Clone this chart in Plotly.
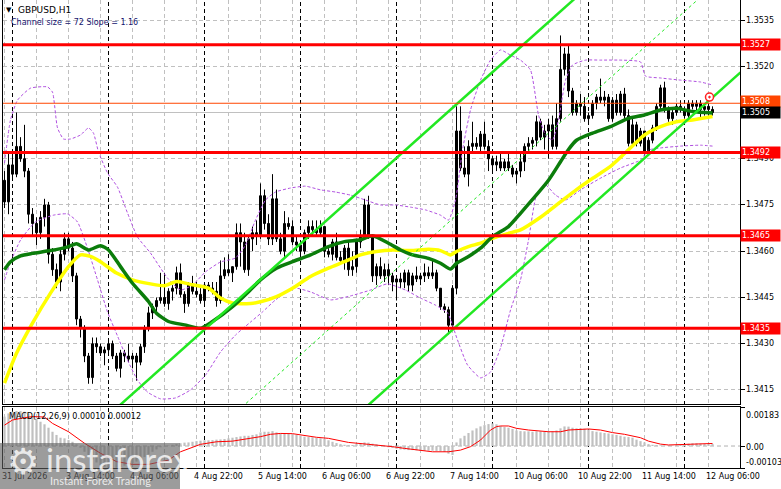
import plotly.graph_objects as go

# ---------------- data ----------------
opens = [1.3483,1.3476,1.3488,1.3485,1.3494,1.3490,1.3486,1.3472,1.3469,1.3466,
1.3471,1.3475,1.3459,1.3454,1.3450,1.3459,1.3464,1.3461,1.3452,1.3438,
1.3435,1.3426,1.3419,1.3430,1.3429,1.3427,1.3428,1.3430,1.3426,1.3422,
1.3427,1.3426,1.3425,1.3426,1.3424,1.3429,1.3435,1.3440,1.3442,1.3444,
1.3445,1.3443,1.3447,1.3448,1.3453,1.3446,1.3443,1.3449,1.3447,1.3446,
1.3444,1.3449,1.3448,1.3447,1.3444,1.3452,1.3454,1.3453,1.3455,1.3466,
1.3463,1.3454,1.3464,1.3466,1.3465,1.3478,1.3469,1.3464,1.3477,1.3464,
1.3460,1.3469,1.3468,1.3463,1.3462,1.3460,1.3466,1.3468,1.3467,1.3466,
1.3468,1.3460,1.3459,1.3463,1.3458,1.3457,1.3461,1.3454,1.3455,1.3463,
1.3465,1.3475,1.3465,1.3452,1.3455,1.3452,1.3454,1.3452,1.3450,1.3451,
1.3450,1.3453,1.3449,1.3452,1.3451,1.3452,1.3453,1.3452,1.3453,1.3448,
1.3442,1.3441,1.3436,1.3448,1.3499,1.3487,1.3485,1.3494,1.3495,1.3494,
1.3498,1.3494,1.3490,1.3488,1.3489,1.3487,1.3489,1.3487,1.3485,1.3486,
1.3489,1.3494,1.3495,1.3496,1.3502,1.3497,1.3499,1.3501,1.3494,1.3503,
1.3519,1.3524,1.3512,1.3505,1.3508,1.3507,1.3503,1.3504,1.3508,1.3510,
1.3509,1.3510,1.3503,1.3509,1.3505,1.3511,1.3504,1.3495,1.3501,1.3495,
1.3499,1.3492,1.3496,1.3500,1.3507,1.3513,1.3506,1.3503,1.3505,1.3507,
1.3506,1.3504,1.3508,1.3507,1.3508,1.3506,1.3507,1.3506]
highs = [1.3486,1.3492,1.3493,1.3505,1.3497,1.3501,1.3487,1.3474,1.3471,1.3473,
1.3477,1.3476,1.3461,1.3456,1.3461,1.3466,1.3466,1.3463,1.3453,1.3439,
1.3436,1.3427,1.3432,1.3432,1.3430,1.3429,1.3431,1.3431,1.3427,1.3428,
1.3428,1.3430,1.3427,1.3427,1.3430,1.3436,1.3442,1.3443,1.3445,1.3453,
1.3453,1.3448,1.3449,1.3455,1.3456,1.3447,1.3450,1.3452,1.3450,1.3448,
1.3450,1.3450,1.3450,1.3450,1.3457,1.3458,1.3459,1.3455,1.3469,1.3469,
1.3466,1.3465,1.3468,1.3470,1.3482,1.3480,1.3472,1.3485,1.3480,1.3466,
1.3473,1.3471,1.3470,1.3465,1.3463,1.3467,1.3470,1.3470,1.3470,1.3470,
1.3468,1.3461,1.3464,1.3466,1.3460,1.3462,1.3463,1.3460,1.3464,1.3467,
1.3477,1.3478,1.3465,1.3456,1.3458,1.3456,1.3456,1.3453,1.3452,1.3453,
1.3454,1.3454,1.3453,1.3455,1.3453,1.3456,1.3455,1.3457,1.3454,1.3448,
1.3443,1.3442,1.3449,1.3507,1.3507,1.3494,1.3496,1.3502,1.3497,1.3499,
1.3502,1.3496,1.3491,1.3491,1.3492,1.3490,1.3492,1.3488,1.3487,1.3492,
1.3495,1.3497,1.3497,1.3504,1.3503,1.3501,1.3503,1.3504,1.3508,1.3530,
1.3526,1.3527,1.3513,1.3509,1.3511,1.3510,1.3505,1.3509,1.3511,1.3516,
1.3512,1.3511,1.3510,1.3511,1.3512,1.3513,1.3506,1.3503,1.3502,1.3500,
1.3499,1.3497,1.3501,1.3508,1.3514,1.3515,1.3507,1.3506,1.3508,1.3509,
1.3507,1.3509,1.3509,1.3509,1.3509,1.3508,1.3508,1.3507]
lows = [1.3474,1.3472,1.3484,1.3484,1.3489,1.3484,1.3469,1.3465,1.3462,1.3464,
1.3468,1.3456,1.3452,1.3448,1.3447,1.3457,1.3460,1.3450,1.3436,1.3432,
1.3424,1.3417,1.3417,1.3427,1.3426,1.3423,1.3426,1.3425,1.3421,1.3419,
1.3424,1.3424,1.3422,1.3418,1.3423,1.3427,1.3434,1.3438,1.3440,1.3443,
1.3442,1.3441,1.3444,1.3446,1.3445,1.3440,1.3442,1.3446,1.3445,1.3443,
1.3443,1.3447,1.3446,1.3442,1.3443,1.3451,1.3452,1.3450,1.3454,1.3455,
1.3453,1.3452,1.3460,1.3462,1.3464,1.3467,1.3462,1.3462,1.3463,1.3459,
1.3458,1.3467,1.3462,1.3460,1.3459,1.3459,1.3464,1.3465,1.3465,1.3465,
1.3458,1.3458,1.3457,1.3457,1.3456,1.3454,1.3452,1.3452,1.3453,1.3461,
1.3464,1.3464,1.3450,1.3449,1.3451,1.3450,1.3449,1.3447,1.3444,1.3448,
1.3448,1.3447,1.3447,1.3450,1.3449,1.3450,1.3451,1.3451,1.3447,1.3441,
1.3440,1.3433,1.3435,1.3446,1.3486,1.3484,1.3481,1.3492,1.3493,1.3492,
1.3493,1.3486,1.3486,1.3486,1.3486,1.3486,1.3486,1.3484,1.3482,1.3484,
1.3486,1.3492,1.3493,1.3494,1.3496,1.3493,1.3490,1.3493,1.3493,1.3502,
1.3517,1.3510,1.3504,1.3504,1.3504,1.3502,1.3501,1.3503,1.3506,1.3508,
1.3507,1.3502,1.3502,1.3504,1.3504,1.3503,1.3494,1.3494,1.3494,1.3494,
1.3491,1.3491,1.3495,1.3499,1.3506,1.3505,1.3502,1.3501,1.3504,1.3505,
1.3503,1.3503,1.3506,1.3505,1.3503,1.3504,1.3504,1.3504]
closes = [1.3476,1.3488,1.3485,1.3494,1.3490,1.3486,1.3472,1.3469,1.3466,1.3471,
1.3475,1.3459,1.3454,1.3450,1.3459,1.3464,1.3461,1.3452,1.3438,1.3435,
1.3426,1.3419,1.3430,1.3429,1.3427,1.3428,1.3430,1.3426,1.3422,1.3427,
1.3426,1.3425,1.3426,1.3424,1.3429,1.3435,1.3440,1.3442,1.3444,1.3445,
1.3443,1.3447,1.3448,1.3453,1.3446,1.3443,1.3449,1.3447,1.3446,1.3444,
1.3449,1.3448,1.3447,1.3444,1.3452,1.3454,1.3453,1.3455,1.3466,1.3463,
1.3454,1.3464,1.3466,1.3465,1.3478,1.3469,1.3464,1.3477,1.3464,1.3460,
1.3469,1.3468,1.3463,1.3462,1.3460,1.3466,1.3468,1.3467,1.3466,1.3468,
1.3460,1.3459,1.3463,1.3458,1.3457,1.3461,1.3454,1.3455,1.3463,1.3465,
1.3475,1.3465,1.3452,1.3455,1.3452,1.3454,1.3452,1.3450,1.3451,1.3450,
1.3453,1.3449,1.3452,1.3451,1.3452,1.3453,1.3452,1.3453,1.3448,1.3442,
1.3441,1.3436,1.3448,1.3499,1.3487,1.3485,1.3494,1.3495,1.3494,1.3498,
1.3494,1.3490,1.3488,1.3489,1.3487,1.3489,1.3487,1.3485,1.3486,1.3489,
1.3494,1.3495,1.3496,1.3502,1.3497,1.3499,1.3501,1.3494,1.3503,1.3519,
1.3524,1.3512,1.3505,1.3508,1.3507,1.3503,1.3504,1.3508,1.3510,1.3509,
1.3510,1.3503,1.3509,1.3505,1.3511,1.3504,1.3495,1.3501,1.3495,1.3499,
1.3492,1.3496,1.3500,1.3507,1.3513,1.3506,1.3503,1.3505,1.3507,1.3506,
1.3504,1.3508,1.3507,1.3508,1.3506,1.3507,1.3506,1.3505]

green_ma_x = [0,1.5,4,7,11.5,16,18,21,24,26,29,32,36,38,41,45,49,52,57,61.5,
64,68,72,76.5,81,85,89,92,96,99,102,106,109,111.5,113,116,119,122,126,129,
136,139,141,143,147,151.5,156,160,164,168,172,177]
green_ma = [1.34540,1.34566,1.34585,1.34593,1.34602,1.34615,1.34624,1.34604,1.34618,1.34604,
1.34550,1.34496,1.34437,1.34399,1.34372,1.34361,1.34350,1.34372,1.34420,1.34475,
1.34507,1.34545,1.34566,1.34588,1.34615,1.34631,1.34637,1.34650,1.34626,1.34604,
1.34588,1.34577,1.34561,1.34542,1.34561,1.34583,1.34610,1.34647,1.34680,1.34723,
1.34830,1.34890,1.34930,1.34960,1.34983,1.35004,1.35031,1.35042,1.35058,1.35064,
1.35053,1.35048]
yellow_ma_x = [0,3,7,11.5,16,19,21.5,24,28,32,36.5,40,43,47,51,54,57,61.5,64,68,
72,76.5,81,85,89,93,97,101.5,106,109,111.5,113,116,119,122,126,129,134,139,143,
146.5,151.5,156,160,164,168,172,177]
yellow_ma = [1.34172,1.34269,1.34367,1.34464,1.34550,1.34588,1.34583,1.34566,1.34529,1.34507,
1.34494,1.34488,1.34502,1.34491,1.34480,1.34448,1.34432,1.34430,1.34436,1.34453,
1.34480,1.34518,1.34545,1.34566,1.34588,1.34599,1.34604,1.34602,1.34606,1.34602,
1.34588,1.34599,1.34615,1.34626,1.34642,1.34658,1.34669,1.34710,1.34760,1.34800,
1.34832,1.34875,1.34929,1.34977,1.35004,1.35020,1.35026,1.35037]

bb_upper_x = [0,1.5,3.25,6.5,10.75,12,13.25,14.75,16.5,19,21,22.25,23.5,25.75,28.25,30.75,33.25,36.5,40.75,44,
47,50.25,54,57.75,60.25,62.75,65.25,67.75,71.5,75.25,79,82.75,86.5,90.25,94,97.75,101.5,105.25,109,111,
112.75,114.5,116.5,119,121.5,124,126.5,129,131.5,133.5,135.25,137,138.5,140.25,142,145.25,149,154,159,160.25,
164,169,174,177]
bb_upper = [1.34886,1.35026,1.35090,1.35129,1.35133,1.35116,1.35000,1.34964,1.34964,1.34977,
1.35000,1.34983,1.34922,1.34854,1.34808,1.34724,1.34646,1.34594,1.34513,1.34474,
1.34490,1.34533,1.34565,1.34578,1.34620,1.34701,1.34766,1.34792,1.34805,1.34811,
1.34799,1.34792,1.34782,1.34766,1.34750,1.34750,1.34743,1.34734,1.34717,1.34701,
1.34766,1.34928,1.35058,1.35155,1.35220,1.35253,1.35236,1.35220,1.35188,1.35042,
1.34977,1.34961,1.35026,1.35155,1.35204,1.35220,1.35220,1.35220,1.35214,1.35168,
1.35162,1.35155,1.35149,1.35139]
bb_lower_x = [0,1.5,4,7.75,12.25,15.75,18.25,20.75,23.25,25.75,28.25,30.75,33.25,35.75,39,42.75,46.5,50.25,54,57.75,
61.5,64.5,67.75,72.25,76.5,81.5,86.5,91.5,95.75,100.25,104,107.75,110.75,113.25,115.75,119,121.5,124,126.5,129,
131,133,135.25,137.75,140.25,144,149,154,159,161,164,169,174,177]
bb_lower = [1.34507,1.34565,1.34636,1.34695,1.34717,1.34721,1.34695,1.34610,1.34507,1.34403,
1.34325,1.34247,1.34182,1.34143,1.34121,1.34124,1.34150,1.34198,1.34273,1.34328,
1.34370,1.34403,1.34442,1.34481,1.34468,1.34442,1.34455,1.34474,1.34494,1.34474,
1.34448,1.34425,1.34400,1.34312,1.34231,1.34189,1.34208,1.34286,1.34409,1.34507,
1.34636,1.34782,1.34815,1.34782,1.34766,1.34799,1.34837,1.34870,1.34896,1.34928,
1.34935,1.34941,1.34944,1.34941]

macd_hist = [0.00138,0.00153,0.00161,0.00164,0.00164,0.00161,0.00153,0.00138,0.00127,0.00114,
0.00102,0.00086,0.00067,0.00052,0.00039,0.00036,0.00028,0.00020,0.00008,-0.00008,
-0.00027,-0.00045,-0.00063,-0.00077,-0.00089,-0.00097,-0.00102,-0.00103,-0.00102,-0.00098,
-0.00092,-0.00086,-0.00080,-0.00073,-0.00066,-0.00052,-0.00039,-0.00027,-0.00016,-0.00006,
-0.00002,0.00002,0.00006,0.00009,0.00013,0.00016,0.00017,0.00020,0.00023,0.00025,
0.00027,0.00027,0.00028,0.00030,0.00031,0.00033,0.00036,0.00039,0.00042,0.00045,
0.00048,0.00048,0.00052,0.00055,0.00064,0.00067,0.00067,0.00070,0.00064,0.00059,
0.00058,0.00058,0.00056,0.00052,0.00048,0.00044,0.00042,0.00041,0.00038,0.00036,
0.00033,0.00027,0.00020,0.00014,0.00009,0.00006,0.00005,0.00005,0.00009,0.00014,
0.00017,0.00016,0.00011,0.00008,0.00003,-0.00002,-0.00006,-0.00009,-0.00013,-0.00016,
-0.00017,-0.00019,-0.00019,-0.00020,-0.00022,-0.00022,-0.00022,-0.00022,-0.00023,-0.00025,
-0.00028,-0.00036,-0.00042,0.00017,0.00036,0.00048,0.00061,0.00073,0.00083,0.00092,
0.00098,0.00103,0.00106,0.00102,0.00094,0.00089,0.00086,0.00080,0.00073,0.00070,
0.00069,0.00069,0.00067,0.00069,0.00069,0.00067,0.00067,0.00069,0.00073,0.00083,
0.00092,0.00091,0.00086,0.00083,0.00083,0.00081,0.00078,0.00070,0.00067,0.00064,
0.00061,0.00059,0.00055,0.00052,0.00048,0.00044,0.00042,0.00039,0.00030,0.00023,
0.00017,0.00009,0.00006,0.00005,0.00003,0.00002,0.00002,0.00002,0.00003,0.00005,
0.00006,0.00011,0.00013,0.00013,0.00011,0.00009,0.00009,0.00010]
signal_x = [0,2,5,7,10,12,16,20,24,28,32,36,41,44,49,53,57,61.5,64,66.5,
69,72,75,78,81,83,86,91,95,97,100,103,107,111,114,116.5,119,121.5,123,124,
126,128,131,136,139,141,144,146,149,152,155,159,161,164,166,170,174,177]
signal = [0.00098,0.00122,0.00133,0.00138,0.00136,0.00106,0.00067,0.00013,-0.00034,-0.00073,
-0.00086,-0.00086,-0.00066,-0.00027,0.00008,0.00020,0.00023,0.00036,0.00044,0.00055,
0.00059,0.00058,0.00048,0.00041,0.00036,0.00028,0.00017,0.00008,0.00002,-0.00003,
-0.00011,-0.00019,-0.00027,-0.00027,-0.00019,-0.00003,0.00028,0.00075,0.00091,0.00094,
0.00094,0.00083,0.00075,0.00067,0.00067,0.00075,0.00078,0.00080,0.00075,0.00063,
0.00055,0.00039,0.00023,0.00009,0.00005,0.00008,0.00008,0.00012]

channel_x = [0, 184]
channel_upper = [1.33766, 1.35900]
channel_mid = [1.33406, 1.35540]
channel_lower = [1.33046, 1.35180]

levels = [1.3527, 1.3492, 1.3465, 1.3435]
level_labels = ["1.3527", "1.3492", "1.3465", "1.3435"]
orange_level = 1.3508
bid = 1.3505
alert_x = [176.25]
alert_y = [1.3510]

price_ticks = [1.3415, 1.3430, 1.3445, 1.3460, 1.3475, 1.3490, 1.3505, 1.3520, 1.3535]
grid_bars = list(range(0, 184, 8))
label_bars = [0, 16, 32, 48, 64, 80, 96, 112, 128, 144, 160, 176]
time_labels = ["31 Jul 2026", "3 Aug 14:00", "4 Aug 06:00", "4 Aug 22:00", "5 Aug 14:00",
               "6 Aug 06:00", "6 Aug 22:00", "7 Aug 14:00", "10 Aug 06:00", "10 Aug 22:00",
               "11 Aug 14:00", "12 Aug 06:00"]
day_starts = [2, 26, 50, 74, 98, 122, 146, 170]
macd_labels = [("0.00183", 415), ("0.00", 447), ("-0.00103", 462)]

# ---------------- figure ----------------
W, H = 781, 489
ML, MR, MT, MB = 3, 41, 0, 21
PW = W - ML - MR
PH = H - MT - MB
main_dom = [(468 - 404) / PH, 1.0]
macd_dom = [0.0, (468 - 407) / PH]
XR = [-0.375, 183.875]
FONT = "DejaVu Sans"

bars = list(range(len(closes)))
fig = go.Figure()

# wicks
wx, wy = [], []
for i in bars:
    wx += [i, i, None]
    wy += [lows[i], highs[i], None]
fig.add_trace(go.Scatter(x=wx, y=wy, mode="lines", line=dict(color="black", width=1),
                         hoverinfo="skip", showlegend=False))
# bodies
ux, ub, uh, dx, db, dh = [], [], [], [], [], []
for i in bars:
    o, c = opens[i], closes[i]
    if c >= o:
        ux.append(i); ub.append(o); uh.append(max(c - o, 0.000015))
    else:
        dx.append(i); db.append(c); dh.append(max(o - c, 0.000015))
fig.add_trace(go.Bar(x=ux, y=uh, base=ub, width=0.5, showlegend=False,
                     marker=dict(color="white", line=dict(color="black", width=1))))
fig.add_trace(go.Bar(x=dx, y=dh, base=db, width=0.5, showlegend=False,
                     marker=dict(color="black", line=dict(color="black", width=1))))

# Bollinger bands
for bx, by in [(bb_upper_x, bb_upper), (bb_lower_x, bb_lower)]:
    fig.add_trace(go.Scatter(x=bx, y=by, mode="lines", showlegend=False,
                             line=dict(color="#B050E0", width=1, dash="3px,2px", shape="spline", smoothing=0.5)))

# moving averages
fig.add_trace(go.Scatter(x=yellow_ma_x, y=yellow_ma, mode="lines", line=dict(color="#FFFF00", width=3.5, shape="spline", smoothing=0.6), showlegend=False))
fig.add_trace(go.Scatter(x=green_ma_x, y=green_ma, mode="lines", line=dict(color="#0B7D0B", width=3.5, shape="spline", smoothing=0.6), showlegend=False))

# channel
fig.add_trace(go.Scatter(x=channel_x, y=channel_upper, mode="lines", line=dict(color="#22E822", width=2.5), showlegend=False))
fig.add_trace(go.Scatter(x=channel_x, y=channel_lower, mode="lines", line=dict(color="#22E822", width=2.5), showlegend=False))
fig.add_trace(go.Scatter(x=channel_x, y=channel_mid, mode="lines", line=dict(color="#22E822", width=1, dash="3px,3px"), showlegend=False))

fig.add_trace(go.Scatter(x=alert_x, y=alert_y, mode="markers", showlegend=False,
                         marker=dict(symbol="circle-dot", size=8, color="white", line=dict(color="#FF2020", width=1.5))))

# MACD
fig.add_trace(go.Bar(x=bars, y=macd_hist, width=0.55, xaxis="x2", yaxis="y2", showlegend=False,
                     marker=dict(color="#C0C0C0", line=dict(width=0))))
fig.add_trace(go.Scatter(x=signal_x, y=signal, mode="lines", xaxis="x2", yaxis="y2", showlegend=False,
                         line=dict(color="#FF0000", width=1)))

shapes = []
for d in day_starts:
    shapes.append(dict(type="line", xref="x", yref="paper", x0=d, x1=d, y0=0, y1=1,
                       line=dict(color="black", width=1, dash="4px,3px"), layer="below"))
for lv in levels:
    shapes.append(dict(type="line", xref="paper", yref="y", x0=0, x1=1, y0=lv, y1=lv,
                       line=dict(color="#FF0000", width=3), layer="above"))
shapes.append(dict(type="line", xref="paper", yref="y", x0=0, x1=1, y0=orange_level, y1=orange_level,
                   line=dict(color="#FF4500", width=1), layer="above"))
shapes.append(dict(type="line", xref="paper", yref="y", x0=0, x1=1, y0=bid, y1=bid,
                   line=dict(color="#C0C0C0", width=1), layer="below"))
shapes.append(dict(type="line", xref="paper", yref="y2", x0=0, x1=1, y0=0, y1=0,
                   line=dict(color="#B0B0B0", width=1, dash="4px,3px"), layer="below"))


def px_x(x):
    return (x - ML) / PW


def px_y(y):
    return (468 - y) / PH


# watermark box
shapes.append(dict(type="rect", xref="paper", yref="paper",
                   x0=px_x(0), x1=px_x(180), y0=px_y(489), y1=px_y(443),
                   fillcolor="rgba(95,95,95,0.62)", line=dict(width=0), layer="above"))

ann = []
ann.append(dict(text="▼", x=px_x(4), y=px_y(10), xref="paper", yref="paper", xanchor="left", yanchor="middle",
                showarrow=False, font=dict(family=FONT, size=7, color="black")))
ann.append(dict(text="GBPUSD,H1", x=px_x(16), y=px_y(10), xref="paper", yref="paper", xanchor="left", yanchor="middle",
                showarrow=False, font=dict(family=FONT, size=9, color="black")))
ann.append(dict(text="Channel size = 72 Slope = 1.16", x=px_x(9), y=px_y(22), xref="paper", yref="paper",
                xanchor="left", yanchor="middle", showarrow=False, font=dict(family=FONT, size=8, color="#14146E")))
ann.append(dict(text="MACD(12,26,9) 0.00010 0.00012", x=px_x(7), y=px_y(416), xref="paper", yref="paper",
                xanchor="left", yanchor="middle", showarrow=False, font=dict(family=FONT, size=8, color="black")))
for t, yy in macd_labels:
    ann.append(dict(text=t, x=1, y=px_y(yy), xref="paper", yref="paper", xanchor="left", yanchor="middle",
                    xshift=4, showarrow=False, font=dict(family=FONT, size=8, color="black")))
for pt in price_ticks:
    ann.append(dict(text=f"{pt:.4f}", x=1, y=pt, xref="paper", yref="y", xanchor="left", yanchor="middle",
                    xshift=4, showarrow=False, font=dict(family=FONT, size=8, color="black")))
for lv, lab in zip(levels, level_labels):
    ann.append(dict(text=lab, x=1, y=lv, xref="paper", yref="y", xanchor="left", yanchor="middle", xshift=0,
                    showarrow=False, bgcolor="#FF0000", width=37, align="left", borderpad=1,
                    font=dict(family=FONT, size=8, color="white")))
ann.append(dict(text="1.3508", x=1, y=orange_level, xref="paper", yref="y", xanchor="left", yanchor="middle", xshift=0,
                yshift=1.5, showarrow=False, bgcolor="#FF4500", width=37, align="left", borderpad=1,
                font=dict(family=FONT, size=8, color="white")))
ann.append(dict(text="1.3505", x=1, y=bid, xref="paper", yref="y", xanchor="left", yanchor="middle", xshift=0,
                showarrow=False, bgcolor="black", width=37, align="left", borderpad=1,
                font=dict(family=FONT, size=8, color="white")))
# watermark text
ann.append(dict(text="⚙", x=px_x(23), y=px_y(461), xref="paper", yref="paper", xanchor="center", yanchor="middle",
                showarrow=False, font=dict(family="DejaVu Sans", size=36, color="rgba(255,255,255,0.8)")))
ann.append(dict(text="instaforex", x=px_x(44), y=px_y(459), xref="paper", yref="paper", xanchor="left", yanchor="middle",
                showarrow=False, font=dict(family="Lato", size=33, color="rgba(255,255,255,0.8)")))
ann.append(dict(text="Instant Forex Trading", x=px_x(48), y=px_y(481), xref="paper", yref="paper", xanchor="left",
                yanchor="middle", showarrow=False, font=dict(family="Lato", size=11, color="rgba(255,255,255,0.8)")))

tick_text = []
for b in grid_bars:
    tick_text.append(time_labels[label_bars.index(b)] if b in label_bars else "")

grid_common = dict(showgrid=True, gridcolor="#C0C0C0", gridwidth=1, griddash="4px,3px")

fig.update_layout(
    width=W, height=H, margin=dict(l=ML, r=MR, t=MT, b=MB),
    paper_bgcolor="white", plot_bgcolor="white", barmode="overlay",
    showlegend=False, hovermode=False, shapes=shapes, annotations=ann,
    xaxis=dict(domain=[0, 1], range=XR, anchor="y", tickvals=grid_bars, showticklabels=False, ticks="",
               showline=True, linecolor="black", linewidth=1, mirror=True, zeroline=False, **grid_common),
    yaxis=dict(domain=main_dom, range=[1.341043, 1.354150], side="right", anchor="x", tickvals=price_ticks,
               showticklabels=False, ticks="outside", ticklen=4, tickcolor="black", showline=True, linecolor="black",
               linewidth=1, mirror=True, zeroline=False, **grid_common),
    xaxis2=dict(domain=[0, 1], range=XR, anchor="y2", matches="x", tickvals=grid_bars, ticktext=tick_text,
                ticklabelposition="outside right", ticklabelshift=-3, ticks="", showline=True, linecolor="black",
                linewidth=1, mirror=True, zeroline=False, tickfont=dict(family=FONT, size=8, color="black"),
                **grid_common),
    yaxis2=dict(domain=macd_dom, range=[-0.00103, 0.00183], side="right", anchor="x2", tickvals=[0.00183, 0, -0.00103],
                showticklabels=False, ticks="outside", ticklen=4, tickcolor="black", showgrid=False,
                showline=True, linecolor="black", linewidth=1, mirror=True, zeroline=False),
)

fig.write_html("out.html", config={"displayModeBar": False, "staticPlot": True},
               post_script="document.body.style.margin='0px';document.body.style.padding='0px';")
